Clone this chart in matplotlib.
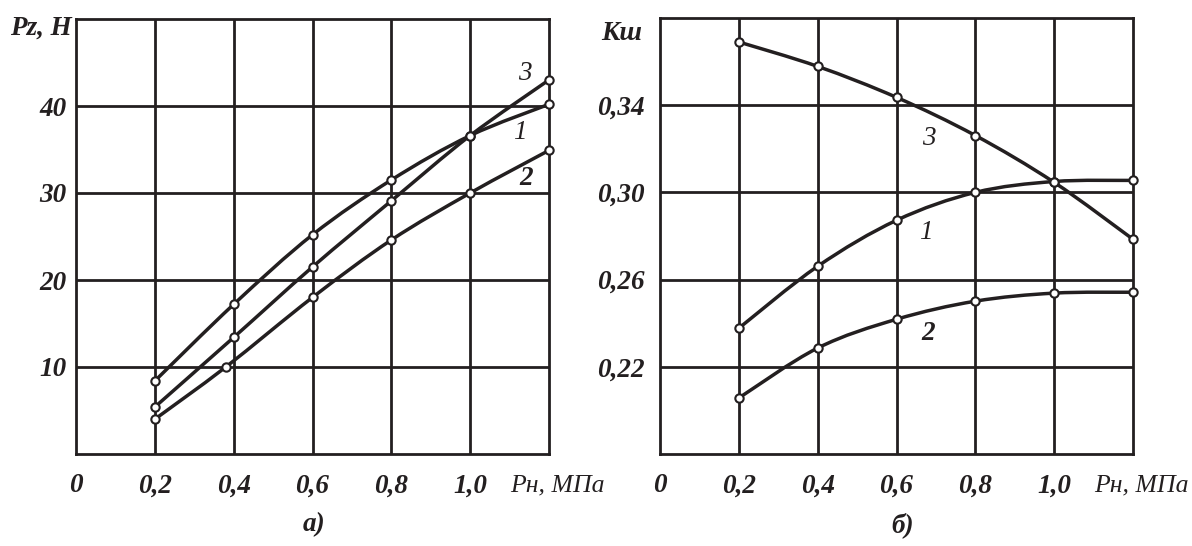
import numpy as np
import matplotlib
matplotlib.use("Agg")
import matplotlib.pyplot as plt
from matplotlib.path import Path
from matplotlib.patches import PathPatch
from matplotlib.transforms import blended_transform_factory

# ---------------- data ----------------
x_ticks = [0, 0.2, 0.4, 0.6, 0.8, 1.0]
x_tick_labels = ["0", "0,2", "0,4", "0,6", "0,8", "1,0"]
x_axis_label = "Pн, МПа"

# panel a) Pz, H
a_x1 = [0.2, 0.4, 0.6, 0.8, 1.0, 1.2]
a_y1 = [8.4, 17.2, 25.2, 31.5, 36.6, 40.2]
a_x2 = [0.2, 0.38, 0.6, 0.8, 1.0, 1.2]
a_y2 = [4.0, 10.0, 18.0, 24.6, 30.0, 34.9]
a_x3 = [0.2, 0.4, 0.6, 0.8, 1.0, 1.2]
a_y3 = [5.4, 13.4, 21.5, 29.1, 36.6, 43.0]
a_yticks = [10, 20, 30, 40]
a_ytick_labels = ["10", "20", "30", "40"]
a_ylabel = "Pz, H"
a_panel = "а)"

# panel б) Кш
b_x = [0.2, 0.4, 0.6, 0.8, 1.0, 1.2]
b_y1 = [0.2377, 0.2661, 0.2872, 0.3000, 0.3050, 0.3055]
b_y2 = [0.2057, 0.2286, 0.2418, 0.2501, 0.2538, 0.2542]
b_y3 = [0.3690, 0.3578, 0.3436, 0.3261, 0.3046, 0.2785]
b_yticks = [0.22, 0.26, 0.30, 0.34]
b_ytick_labels = ["0,22", "0,26", "0,30", "0,34"]
b_ylabel = "Кш"
b_panel = "б)"

# ---------------- style ----------------
INK = "#231f20"
SERIF = ["Liberation Serif", "DejaVu Serif"]
FS = 19.5
plt.rcParams["font.family"] = SERIF


def smooth(ax, x, y, lw=2.5):
    """Catmull-Rom curve through the data points, drawn as a Bezier path."""
    p = np.column_stack([x, y]).astype(float)
    pts = np.vstack([p[0], p, p[-1]])
    verts = [tuple(p[0])]
    codes = [Path.MOVETO]
    for i in range(1, len(pts) - 2):
        p0, p1, p2, p3 = pts[i - 1], pts[i], pts[i + 1], pts[i + 2]
        c1 = p1 + (p2 - p0) / 6.0
        c2 = p2 - (p3 - p1) / 6.0
        verts += [tuple(c1), tuple(c2), tuple(p2)]
        codes += [Path.CURVE4] * 3
    patch = PathPatch(Path(verts, codes), fill=False, edgecolor=INK, lw=lw,
                      capstyle="round", joinstyle="round", zorder=3)
    ax.add_patch(patch)
    ax.plot(x, y, "o", ms=6, mfc="white", mec=INK, mew=1.5, zorder=4,
            clip_on=False)


def setup(ax, ylim, yticks, ylabels, ypad):
    ax.set_xlim(0, 1.2)
    ax.set_ylim(*ylim)
    ax.set_xticks(x_ticks)
    ax.set_xticklabels(x_tick_labels)
    ax.set_yticks(yticks)
    ax.set_yticklabels(ylabels)
    ax.tick_params(length=0, labelsize=FS, colors=INK)
    ax.tick_params(axis="x", pad=14)
    ax.tick_params(axis="y", pad=ypad)
    for lab in ax.get_xticklabels() + ax.get_yticklabels():
        lab.set_fontweight("bold")
        lab.set_fontstyle("italic")
    for s in ax.spines.values():
        s.set_linewidth(2.0)
        s.set_color(INK)
    for xv in x_ticks[1:]:
        ax.axvline(xv, color=INK, lw=2.0, zorder=1)
    for yv in yticks:
        ax.axhline(yv, color=INK, lw=2.0, zorder=1)
    trans = blended_transform_factory(ax.transAxes, ax.transAxes)
    ax.text(0.917, -0.072, x_axis_label, transform=trans, ha="left",
            va="center", fontsize=FS - 1, fontstyle="italic", color=INK)


fig = plt.figure(figsize=(11.92, 5.46), dpi=100)
W, H = 1192.0, 546.0
axa = fig.add_axes([76 / W, 1 - 454 / H, 473 / W, 435 / H])
axb = fig.add_axes([660 / W, 1 - 454 / H, 473 / W, 436 / H])

setup(axa, (0, 50), a_yticks, a_ytick_labels, 7)
setup(axb, (0.18, 0.38), b_yticks, b_ytick_labels, 11)

smooth(axa, a_x1, a_y1)
smooth(axa, a_x2, a_y2)
smooth(axa, a_x3, a_y3)
smooth(axb, b_x, b_y1)
smooth(axb, b_x, b_y2)
smooth(axb, b_x, b_y3)

# curve numbers
cl = dict(fontsize=FS, fontstyle="italic", color=INK, ha="center", va="center")
axa.text(1.139, 43.7, "3", **cl)
axa.text(1.126, 36.9, "1", **cl)
axa.text(1.141, 31.7, "2", fontweight="bold", **cl)
axb.text(0.682, 0.3247, "3", **cl)
axb.text(0.675, 0.2817, "1", **cl)
axb.text(0.680, 0.2354, "2", fontweight="bold", **cl)

# axis titles
fig.text(72 / W, 1 - 28 / H, a_ylabel, ha="right", va="center", fontsize=FS,
         fontweight="bold", fontstyle="italic", color=INK)
fig.text(642 / W, 1 - 34 / H, b_ylabel, ha="right", va="center", fontsize=FS,
         fontweight="bold", fontstyle="italic", color=INK)

# panel letters
fig.text(314 / W, 1 - 525 / H, a_panel, ha="center", va="center", fontsize=FS,
         fontweight="bold", fontstyle="italic", color=INK)
fig.text(903 / W, 1 - 525 / H, b_panel, ha="center", va="center", fontsize=FS,
         fontweight="bold", fontstyle="italic", color=INK)

fig.savefig("out.png", dpi=100, facecolor="white")
